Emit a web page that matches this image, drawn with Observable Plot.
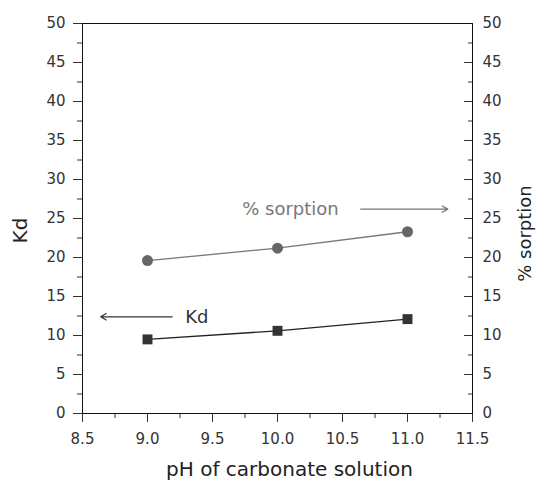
<!DOCTYPE html>
<html><head><meta charset="utf-8">
<script src="https://cdn.jsdelivr.net/npm/d3@7"></script>
<script src="https://cdn.jsdelivr.net/npm/@observablehq/plot@0.6"></script>
<style>
body{margin:0;background:#fff}
#chart svg{font-family:"DejaVu Sans",Arial,sans-serif}
</style></head><body><div id="chart"></div>
<script>
const pH = [9.0, 10.0, 11.0];
const kd = [9.5, 10.6, 12.1];
const sorption = [19.6, 21.2, 23.3];
const xTicks = [8.5, 9.0, 9.5, 10.0, 10.5, 11.0, 11.5];
const xMinor = [8.75, 9.25, 9.75, 10.25, 10.75, 11.25];
const yTicks = [0, 5, 10, 15, 20, 25, 30, 35, 40, 45, 50];
const yMinor = [2.5, 7.5, 12.5, 17.5, 22.5, 27.5, 32.5, 37.5, 42.5, 47.5];
const xTitle = "pH of carbonate solution";
const yTitle = "Kd";
const y2Title = "% sorption";
const noteText = ["% sorption", "Kd"];
const noteX = [10.1, 9.38];
const noteY = [26.2, 12.4];
const noteColor = ["#777", "#333"];
const arrowX1 = [10.64, 9.19];
const arrowX2 = [11.31, 8.64];
const arrowY = [26.2, 12.4];

const rows = pH.map((x, i) => ({pH: x, kd: kd[i], s: sorption[i]}));
const notes = noteText.map((t, i) => ({t, x: noteX[i], y: noteY[i], c: noteColor[i]}));
const arrows = arrowX1.map((x1, i) => ({x1, x2: arrowX2[i], y: arrowY[i], c: noteColor[i]}));

const chart = Plot.plot({
  width: 538, height: 487,
  marginLeft: 82, marginRight: 66, marginTop: 23, marginBottom: 74,
  style: {fontSize: "15px", color: "#333", background: "#fff"},
  x: {domain: [8.5, 11.5]},
  y: {domain: [0, 50]},
  marks: [
    Plot.axisX({ticks: xMinor, tickSize: 5, tickFormat: () => "", label: null}),
    Plot.axisX({ticks: xTicks, tickSize: 9, tickPadding: 11, fontSize: 15, tickFormat: d => d.toFixed(1), label: null}),
    Plot.axisY({ticks: yMinor, tickSize: 5, tickFormat: () => "", label: null}),
    Plot.axisY({ticks: yTicks, tickSize: 9, tickPadding: 8, fontSize: 15, label: null}),
    Plot.axisY({anchor: "right", ticks: yMinor, tickSize: -5, tickFormat: () => "", label: null}),
    Plot.axisY({anchor: "right", ticks: yTicks, tickSize: -9, tickPadding: 19, fontSize: 15, label: null}),
    Plot.text([xTitle], {text: d => d, frameAnchor: "bottom", textAnchor: "middle", dy: 62, dx: 12, fontSize: 20, fill: "#222"}),
    Plot.text([yTitle], {text: d => d, frameAnchor: "left", textAnchor: "middle", dx: -62, dy: 12, rotate: -90, fontSize: 20, fill: "#222"}),
    Plot.text([y2Title], {text: d => d, frameAnchor: "right", textAnchor: "middle", dx: 53, dy: 15, rotate: -90, fontSize: 18, fill: "#222"}),
    Plot.frame({stroke: "#111"}),
    Plot.line(rows, {x: "pH", y: "s", stroke: "#777", strokeWidth: 1.3}),
    Plot.dot(rows, {x: "pH", y: "s", r: 5.5, fill: "#666", stroke: "none"}),
    Plot.line(rows, {x: "pH", y: "kd", stroke: "#222", strokeWidth: 1.3}),
    Plot.dot(rows, {x: "pH", y: "kd", symbol: "square", r: 5.6, fill: "#333", stroke: "none"}),
    Plot.arrow(arrows, {x1: "x1", x2: "x2", y1: "y", y2: "y", stroke: "c", strokeWidth: 1.2, headLength: 8}),
    Plot.text(notes, {x: "x", y: "y", text: "t", fill: "c", fontSize: 18})
  ]
});
document.getElementById("chart").append(chart);
</script></body></html>
